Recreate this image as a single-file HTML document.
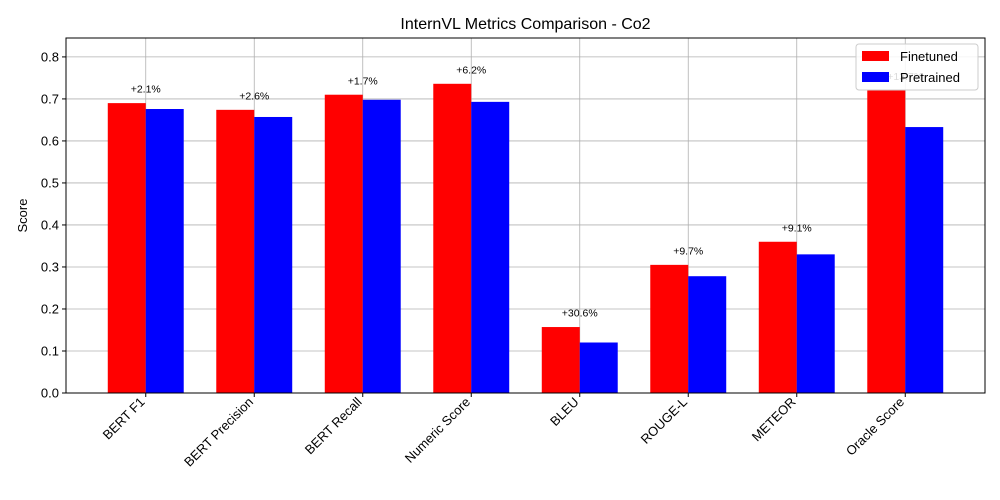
<!DOCTYPE html>
<html><head><meta charset="utf-8"><style>body{margin:0;background:#fff}svg{display:block;font-family:"Liberation Sans","DejaVu Sans",sans-serif}</style></head>
<body>
<svg id="chart" width="1000" height="500" viewBox="0 0 1000 500">
<rect width="1000" height="500" fill="#fff"/>
<text x="525.5" y="29" font-size="16" text-anchor="middle">InternVL Metrics Comparison - Co2</text>
<g id="grid"></g><g id="bars"></g><g id="labels"></g><g id="axes"></g>
<text transform="translate(27,215.5) rotate(-90)" font-size="13" text-anchor="middle">Score</text>
<g>
<rect x="856" y="44" width="122" height="46" rx="3" fill="#fff" fill-opacity="0.85" stroke="#ccc"/>
<rect x="862" y="51" width="27" height="10" fill="red"/>
<text x="900" y="61" font-size="13">Finetuned</text>
<rect x="862" y="72" width="27" height="10" fill="blue"/>
<text x="900" y="82" font-size="13">Pretrained</text>
</g>
</svg>
<script>
const categories=["BERT F1","BERT Precision","BERT Recall","Numeric Score","BLEU","ROUGE-L","METEOR","Oracle Score"];
const finetuned=[0.690,0.674,0.710,0.736,0.157,0.305,0.360,0.720];
const pretrained=[0.676,0.657,0.698,0.693,0.1202,0.278,0.330,0.633];
const yTicks=[0,0.1,0.2,0.3,0.4,0.5,0.6,0.7,0.8];
const L=66,R=985,T=38,B=393,yMax=0.845,xMin=-0.735,xMax=7.735,bw=0.35;
const NS="http://www.w3.org/2000/svg";
const x=v=>L+(v-xMin)/(xMax-xMin)*(R-L);
const y=v=>B-v/yMax*(B-T);
function mk(tag,attrs,parent,txt){const e=document.createElementNS(NS,tag);for(const k in attrs)e.setAttribute(k,attrs[k]);if(txt!==undefined)e.textContent=txt;document.getElementById(parent).appendChild(e);return e;}
yTicks.forEach(t=>{
  mk('line',{x1:L,x2:R,y1:y(t),y2:y(t),stroke:'#b0b0b0','stroke-width':0.8},'grid');
  mk('line',{x1:L-4,x2:L,y1:y(t),y2:y(t),stroke:'#000'},'axes');
  const tl=mk('text',{x:L-7,y:y(t)+4.5,'font-size':13,'text-anchor':'end'},'axes',t.toFixed(1));
  
  
});
categories.forEach((c,i)=>{
  mk('line',{x1:x(i),x2:x(i),y1:T,y2:B,stroke:'#b0b0b0','stroke-width':0.8},'grid');
  const fb=mk('rect',{x:x(i-bw),y:y(finetuned[i]),width:x(i)-x(i-bw),height:B-y(finetuned[i]),fill:'red'},'bars');
  
  
  const pb=mk('rect',{x:x(i),y:y(pretrained[i]),width:x(i+bw)-x(i),height:B-y(pretrained[i]),fill:'blue'},'bars');
  
  
  const pct=(finetuned[i]/pretrained[i]-1)*100;
  const lb=mk('text',{x:x(i),y:y(Math.max(finetuned[i],pretrained[i])+0.02)-2,'font-size':10.5,'text-anchor':'middle'},'labels',(pct>=0?'+':'')+pct.toFixed(1)+'%');
  
  
  mk('line',{x1:x(i),x2:x(i),y1:B,y2:B+4,stroke:'#000'},'axes');
  const xl=mk('text',{transform:`translate(${x(i)-7},${B+3}) rotate(-45)`,'font-size':13,'text-anchor':'end','dominant-baseline':'hanging'},'axes',c);
  
  
});
mk('rect',{x:L,y:T,width:R-L,height:B-T,fill:'none',stroke:'#000','stroke-width':1},'axes');
</script>
</body></html>
